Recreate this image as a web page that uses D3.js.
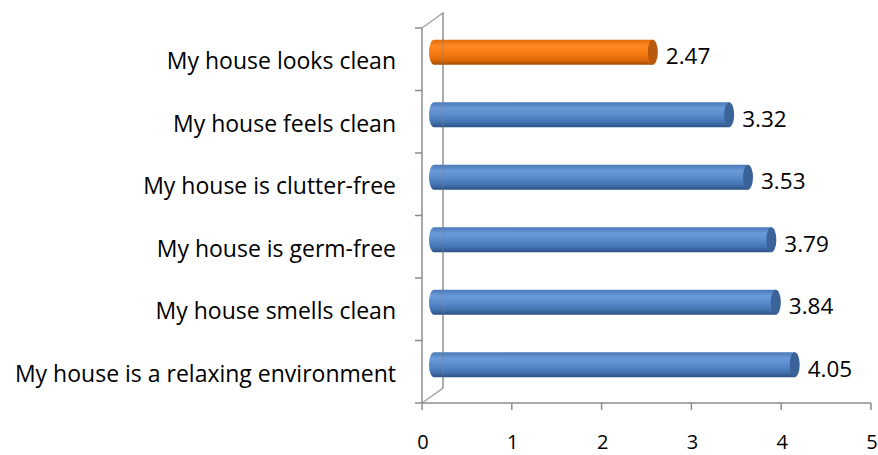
<!DOCTYPE html>
<html>
<head>
<meta charset="utf-8">
<script src="https://cdn.jsdelivr.net/npm/d3@7"></script>
<style>
  body { margin: 0; background: #fff; }
  svg text { font-family: "Open Sans", "Noto Sans", sans-serif; fill: #000; }
</style>
</head>
<body>
<div id="chart"></div>
<script>
// data, top bar first
var categories = ['My house looks clean', 'My house feels clean', 'My house is clutter-free',
  'My house is germ-free', 'My house smells clean', 'My house is a relaxing environment'];
var scores = [2.47, 3.32, 3.53, 3.79, 3.84, 4.05];
var highlight = [true, false, false, false, false, false];
var xTicks = [0, 1, 2, 3, 4, 5];

var width = 878, height = 455;
var depthX = 21, depthY = 15;   // fake 3d offset of the back wall

var svg = d3.select('#chart').append('svg')
  .attr('width', width)
  .attr('height', height);

var x = d3.scaleLinear().domain([0, 5]).range([422, 871]);
var y = d3.scaleBand().domain(categories).range([28, 403]).paddingInner(0).paddingOuter(0);

var defs = svg.append('defs');
function cylGrad(id, stops) {
  var g = defs.append('linearGradient').attr('id', id)
    .attr('x1', 0).attr('y1', 0).attr('x2', 0).attr('y2', 1);
  stops.forEach(function(s) {
    g.append('stop').attr('offset', s[0]).attr('stop-color', s[1]);
  });
}
cylGrad('blue', [[0, '#4a79b8'], [0.25, '#6b9ad8'], [0.5, '#5b8cce'], [0.8, '#4272b0'], [1, '#2c5185']]);
cylGrad('orange', [[0, '#e46c0a'], [0.25, '#ff8a26'], [0.5, '#fb7d14'], [0.8, '#e06a08'], [1, '#a44d05']]);

var grey = '#8c8c8c';

// back wall edge + floor edge
svg.append('path')
  .attr('d', 'M' + x(0) + ',' + (y.range()[0]) + 'L' + (x(0) + depthX) + ',' + (y.range()[0] - depthY) +
    'L' + (x(0) + depthX) + ',' + (y.range()[1] - depthY) + 'L' + x(0) + ',' + y.range()[1])
  .attr('fill', 'none')
  .attr('stroke', '#a6a6a6')
  .attr('stroke-width', 1.5);

// category axis
svg.append('line')
  .attr('x1', x(0)).attr('x2', x(0))
  .attr('y1', y.range()[0]).attr('y2', y.range()[1])
  .attr('stroke', grey).attr('stroke-width', 1.5);

var catTicks = d3.range(categories.length + 1).map(function(i) {
  return y.range()[0] + i * y.step();
});
svg.selectAll('.ytick').data(catTicks).enter().append('line')
  .attr('x1', x(0) - 7).attr('x2', x(0))
  .attr('y1', function(d) { return d; })
  .attr('y2', function(d) { return d; })
  .attr('stroke', grey).attr('stroke-width', 1.5);

// value axis
svg.append('line')
  .attr('x1', x(0)).attr('x2', x(5))
  .attr('y1', y.range()[1]).attr('y2', y.range()[1])
  .attr('stroke', grey).attr('stroke-width', 1.5);

svg.selectAll('.xtick').data(xTicks).enter().append('line')
  .attr('x1', function(d) { return x(d); })
  .attr('x2', function(d) { return x(d); })
  .attr('y1', y.range()[1]).attr('y2', y.range()[1] + 7)
  .attr('stroke', grey).attr('stroke-width', 1.5);

svg.selectAll('.xlab').data(xTicks).enter().append('text')
  .attr('x', function(d) { return x(d) + 1; })
  .attr('y', 449)
  .attr('text-anchor', 'middle')
  .style('font-size', '20px')
  .text(function(d) { return d; });

// category labels
svg.selectAll('.ylab').data(categories).enter().append('text')
  .attr('x', 396)
  .attr('y', function(d) { return y(d) + y.bandwidth() / 2 + 10; })
  .attr('text-anchor', 'end')
  .style('font-size', '23px')
  .text(function(d) { return d; });

// cylinders (sit a bit above the band centre because of the depth)
var barH = 25, rx = 5;
var bars = svg.selectAll('.bar').data(scores).enter().append('g')
  .attr('transform', function(d, i) {
    return 'translate(0,' + (y(categories[i]) + y.bandwidth() / 2 - 7) + ')';
  });

bars.append('path')
  .attr('d', function(d) {
    var x0 = x(0) + 12, x1 = x(d) + 9, h = barH / 2;
    return 'M' + x0 + ',' + (-h) + 'L' + x1 + ',' + (-h) +
      'L' + x1 + ',' + h + 'L' + x0 + ',' + h +
      'A' + rx + ',' + h + ' 0 0 1 ' + x0 + ',' + (-h) + 'Z';
  })
  .attr('fill', function(d, i) { return highlight[i] ? 'url(#orange)' : 'url(#blue)'; });

bars.append('ellipse')
  .attr('cx', function(d) { return x(d) + 9; })
  .attr('cy', 0)
  .attr('rx', rx)
  .attr('ry', barH / 2)
  .attr('fill', function(d, i) { return highlight[i] ? '#b85a0c' : '#3a6399'; });

// back wall line shows through the bars a little
svg.append('line')
  .attr('x1', x(0) + depthX).attr('x2', x(0) + depthX)
  .attr('y1', y.range()[0] - depthY).attr('y2', y.range()[1] - depthY)
  .attr('stroke', '#7f7f7f').attr('stroke-opacity', 0.35).attr('stroke-width', 1.5);

bars.append('text')
  .attr('x', function(d) { return x(d) + 22; })
  .attr('y', 12)
  .style('font-size', '22.5px')
  .text(function(d) { return d.toFixed(2); });
</script>
</body>
</html>
